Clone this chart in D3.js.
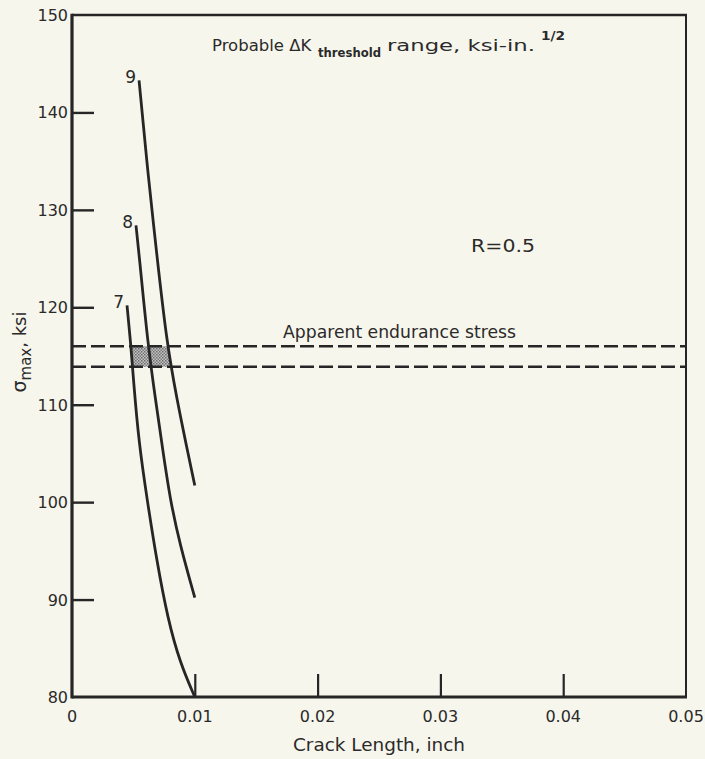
<!DOCTYPE html>
<html><head><meta charset="utf-8">
<script src="https://cdn.jsdelivr.net/npm/d3@7"></script>
<style>
html,body{margin:0;padding:0;background:#f7f6ec;}
svg{display:block;}
text{font-family:"DejaVu Sans","Noto Sans",sans-serif;fill:#2a2a2a;}
</style></head>
<body>
<svg id="c" width="705" height="759"></svg>
<script>
// ---- data ----
const xTicks = [0, 0.01, 0.02, 0.03, 0.04, 0.05];
const xTickLabels = ["0", "0.01", "0.02", "0.03", "0.04", "0.05"];
const yTicks = [80, 90, 100, 110, 120, 130, 140, 150];
const yTickLabels = ["80", "90", "100", "110", "120", "130", "140", "150"];
const curveNames = ["7", "8", "9"];
const curve7 = [[0.00448,120.2],[0.00480,116.0],[0.00500,112.6],[0.00545,106.0],[0.00615,100.0],[0.00690,94.0],[0.00780,88.0],[0.00880,83.5],[0.0100,80.0]];
const curve8 = [[0.00521,128.4],[0.00550,125.0],[0.00615,116.5],[0.00680,110.5],[0.00740,105.3],[0.00800,100.2],[0.00880,95.6],[0.0100,90.2]];
const curve9 = [[0.00546,143.3],[0.00620,133.5],[0.00690,125.5],[0.00770,116.5],[0.00855,110.5],[0.00935,105.6],[0.0100,101.7]];
const enduranceBand = [113.9, 116.0];

// ---- layout ----
const svg = d3.select("#c");
const x = d3.scaleLinear().domain([0, 0.05]).range([72, 686]);
const y = d3.scaleLinear().domain([80, 150]).range([697, 15]);
const ink = "#262626";

// stipple pattern
const defs = svg.append("defs");
const pat = defs.append("pattern").attr("id","stip").attr("width",3).attr("height",3).attr("patternUnits","userSpaceOnUse");
pat.append("rect").attr("width",3).attr("height",3).attr("fill","#c4c4c4");
pat.append("rect").attr("x",0).attr("y",0).attr("width",1.5).attr("height",1.5).attr("fill","#6a6a6a");
pat.append("rect").attr("x",1.5).attr("y",1.5).attr("width",1.5).attr("height",1.5).attr("fill","#7a7a7a");

const line = d3.line().x(d=>x(d[0])).y(d=>y(d[1])).curve(d3.curveBasis);

// shaded region between curve 7 and curve 9 inside the band
const [lo, hi] = enduranceBand;
defs.append("clipPath").attr("id","band").append("rect")
  .attr("x",x(0)).attr("width",x(0.05)-x(0)).attr("y",y(hi)).attr("height",y(lo)-y(hi));
const areaPath = line(curve7) + "L" + x(0.05) + "," + y(80) + "L" + x(0.05) + "," + y(150) + "Z";
defs.append("clipPath").attr("id","right7").append("path").attr("d", areaPath);
const left9 = line(curve9) + "L" + x(0) + "," + y(80) + "L" + x(0) + "," + y(150) + "Z";
svg.append("g").attr("clip-path","url(#band)")
  .append("g").attr("clip-path","url(#right7)")
  .append("path").attr("d", left9).attr("fill","url(#stip)");

// dashed lines
enduranceBand.forEach(v=>{
  svg.append("line").attr("x1",x(0)).attr("x2",x(0.05)).attr("y1",y(v)).attr("y2",y(v))
    .attr("stroke",ink).attr("stroke-width",2.6).attr("stroke-dasharray","14,5");
});

// frame
svg.append("line").attr("x1",x(0.05)).attr("x2",x(0.05)).attr("y1",y(150)).attr("y2",y(80)).attr("stroke",ink).attr("stroke-width",2);
svg.append("line").attr("x1",x(0)).attr("x2",x(0)).attr("y1",y(150)-1.3).attr("y2",y(80)+1.6).attr("stroke",ink).attr("stroke-width",3.2);
svg.append("line").attr("x1",x(0)).attr("x2",x(0.05)+1).attr("y1",y(80)).attr("y2",y(80)).attr("stroke",ink).attr("stroke-width",3.2);
svg.append("line").attr("x1",x(0)).attr("x2",x(0.05)+1).attr("y1",y(150)).attr("y2",y(150)).attr("stroke",ink).attr("stroke-width",2.6);

// axes (inward ticks)
const yAxis = d3.axisRight(y).tickValues(yTicks.filter(v=>v>80 && v<150)).tickSize(22).tickFormat("");
const ga = svg.append("g").attr("transform",`translate(${x(0)},0)`).call(yAxis);
ga.select(".domain").remove();
ga.selectAll(".tick line").attr("stroke",ink).attr("stroke-width",2.4);
const xAxis = d3.axisTop(x).tickValues(xTicks.filter(v=>v>0 && v<0.05)).tickSize(23).tickFormat("");
const gx = svg.append("g").attr("transform",`translate(0,${y(80)})`).call(xAxis);
gx.select(".domain").remove();
gx.selectAll(".tick line").attr("stroke",ink).attr("stroke-width",2.2);

// tick labels
svg.append("g").selectAll("text").data(yTicks).join("text")
  .attr("x",x(0)-4).attr("y",d=>y(d)+6).attr("text-anchor","end")
  .attr("font-size",16).text((d,i)=>yTickLabels[i]);
svg.append("g").selectAll("text").data(xTicks).join("text")
  .attr("x",d=>x(d)).attr("y",722).attr("text-anchor","middle")
  .attr("font-size",16).text((d,i)=>xTickLabels[i]);

// curves
[curve7, curve8, curve9].forEach((c,i)=>{
  svg.append("path").attr("d",line(c)).attr("fill","none").attr("stroke",ink).attr("stroke-width",2.8);
  svg.append("text").attr("x",x(c[0][0])-3).attr("y",y(c[0][1])+3).attr("text-anchor","end")
    .attr("font-size",17).text(curveNames[i]);
});

// annotations
const SG = "spacingAndGlyphs";
const t = svg.append("text").attr("y",51).attr("font-size",16.5);
t.append("tspan").attr("x",212).text("Probable \u0394K");
t.append("tspan").attr("x",318).attr("dy",6).attr("font-size",13).attr("font-weight","bold").attr("textLength",63).attr("lengthAdjust",SG).text("threshold");
t.append("tspan").attr("x",387).attr("dy",-6).attr("textLength",148).attr("lengthAdjust",SG).text("range, ksi-in.");
t.append("tspan").attr("x",541).attr("dy",-11).attr("font-size",12).attr("font-weight","bold").attr("textLength",24).attr("lengthAdjust",SG).text("1/2");
svg.append("text").attr("x",471).attr("y",252).attr("font-size",17).attr("textLength",64).attr("lengthAdjust",SG).text("R=0.5");
svg.append("text").attr("x",283).attr("y",338).attr("font-size",17).attr("textLength",233).attr("lengthAdjust",SG).text("Apparent endurance stress");

// axis titles
svg.append("text").attr("x",379).attr("y",751).attr("text-anchor","middle").attr("font-size",17).attr("textLength",172).attr("lengthAdjust",SG).text("Crack Length, inch");
const yt = svg.append("text").attr("transform","translate(26,352) rotate(-90)").attr("text-anchor","middle").attr("font-size",18);
yt.append("tspan").attr("font-size",19).text("\u03c3");
yt.append("tspan").attr("dy",5).attr("font-size",15).text("max");
yt.append("tspan").attr("dy",-5).text(", ksi");
</script>
</body></html>
